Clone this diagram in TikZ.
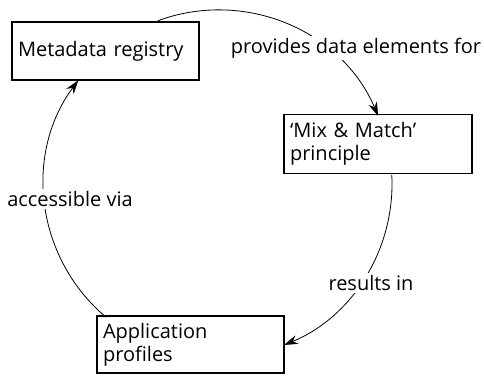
\documentclass[tikz,border=0pt]{standalone}
\usepackage{fontspec}
\setmainfont{Open Sans}
\usetikzlibrary{arrows.meta,calc}
\begin{document}
\begin{tikzpicture}[x=1pt,y=1pt,
  box/.style={draw,line width=1.8pt,rectangle,align=left,inner xsep=6pt,inner ysep=0pt,
    font=\fontsize{20}{23}\selectfont},
  lbl/.style={fill=white,inner sep=2pt,font=\fontsize{20}{23}\selectfont},
  conn/.style={line width=0.8pt,-{Stealth[length=14pt,width=9pt]}}]
\useasboundingbox (0,0) rectangle (484,375);
\coordinate (c) at (218,191);
\def\R{174}
\node[box,text width=175pt,minimum height=58pt] (reg) at (105.5,324) {Metadata registry};
\node[box,text width=176pt,minimum height=59pt] (mix) at (378,231) {‘Mix \& Match’\\principle};
\node[box,text width=175pt,minimum height=57pt] (app) at (190.5,30.5) {Application\\profiles};
\coordinate (a1s) at ($(c)+(110.3:\R)$);
\coordinate (a2s) at ($(c)+(3:\R)$);
\coordinate (a3s) at ($(c)+(230:\R)$);
\draw[conn] (a1s) arc[start angle=110.3,end angle=23,radius=\R];
\draw[conn] (a2s) arc[start angle=3,end angle=-67.7,radius=\R];
\draw[conn] (a3s) arc[start angle=230,end angle=143.4,radius=\R];
\node[lbl] (l1) at (356,327) {provides data elements for};
\node[lbl] (l2) at (371,92) {results in};
\node[lbl] (l3) at (70,176) {accessible via};
\end{tikzpicture}
\end{document}
